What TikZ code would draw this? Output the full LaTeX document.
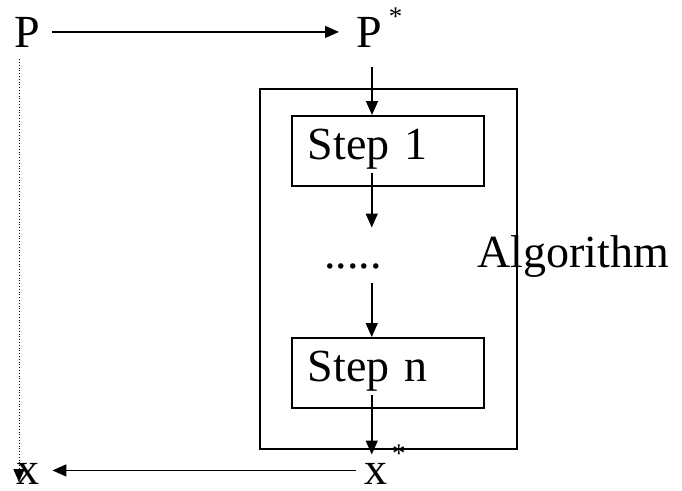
\documentclass[tikz,border=0pt]{standalone}
\usepackage{fontspec}
\setmainfont{Liberation Serif}
\usetikzlibrary{arrows.meta}
\newcommand{\supstar}[1]{\kern#1\raisebox{22pt}{\fontsize{27}{27}\selectfont *}}
\tikzset{
  lbl/.style={font=\fontsize{46}{50}\selectfont, inner sep=0pt, anchor=base west},
  stepbox/.style={draw, line width=1.5pt, anchor=north west, minimum height=70pt,
    text width=160pt, inner xsep=16pt, inner ysep=0pt, align=left,
    text height=31pt, text depth=14pt, font=\fontsize{46}{50}\selectfont},
  algbox/.style={draw, line width=1.5pt, anchor=north west, minimum width=257pt, minimum height=360pt, inner sep=0pt},
  arr/.style={line width=1.5pt, -{Triangle[length=14pt,width=12pt]}},
  dotarr/.style={line width=0.8pt, dotted, -{Triangle[length=13pt,width=11pt]}}
}
\begin{document}
\begin{tikzpicture}[x=1pt,y=-1pt]
\useasboundingbox (0,0) rectangle (682,490);
\node[lbl] (P) at (14,47) {P};
\node[lbl] (Ps) at (356,47) {P\supstar{7pt}};
\node[algbox] (alg) at (259,88) {};
\node[stepbox] (s1) at (291,115) {Step 1};
\node[lbl] (dots) at (324,268) {.....};
\node[stepbox] (s2) at (291,337) {Step n};
\node[lbl] (algl) at (477,267) {Algorithm};
\node[lbl] (x) at (16,484) {x};
\node[lbl] (xs) at (364,484) {x\supstar{5pt}};
\draw[arr] ([xshift=12pt]P.east) -- ([xshift=-17pt]P.east -| Ps.west);
\draw[arr] ([xshift=16pt,yshift=-20pt]Ps.south west) -- ([xshift=16pt]Ps.south west |- s1.north);
\draw[arr] ([xshift=-16pt,yshift=14pt]s1.south) -- ([xshift=-16pt,yshift=-41pt]s1.south);
\draw[arr] ([xshift=-16pt,yshift=54pt]s2.north) -- ([xshift=-16pt]s2.north);
\draw[arr] ([xshift=-16pt,yshift=14pt]s2.south) -- ([xshift=-16pt,yshift=-46pt]s2.south);
\draw[arr] ([xshift=-8pt,yshift=3pt]xs.west |- x.east) -- ([xshift=13pt,yshift=3pt]x.east);
\draw[dotarr] ([xshift=5pt,yshift=-12pt]P.south west) -- ([xshift=5pt,yshift=2pt]P.south west |- x.south);
\end{tikzpicture}
\end{document}
